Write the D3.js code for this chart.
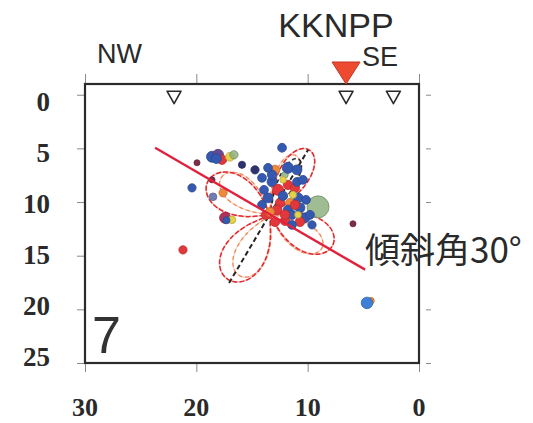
<!DOCTYPE html>
<html>
<head>
<meta charset="utf-8">
<script src="https://cdn.jsdelivr.net/npm/d3@7"></script>
<style>
  html, body { margin: 0; padding: 0; background: #fff; }
  svg { display: block; }
</style>
</head>
<body>
<svg id="chart" width="533" height="423"></svg>
<script>
// Profile distance (km, NW → SE) and depth (km)
const distanceTicks = [30, 20, 10, 0];
const depthTicks = [0, 5, 10, 15, 20, 25];

// Stations on the surface along the profile (km) and the plant site
const stationX = [22.0, 6.55, 2.3];
const plantX = 6.55;

// Hypocentres: distance (km), depth (km), group, magnitude
const quakeX =     [9.07, 12.30, 21.20, 4.31, 4.67, 5.93, 18.59, 18.05, 17.69, 16.98, 16.62, 15.90, 19.94, 14.73,
                    20.39, 18.59, 18.50, 17.60, 17.42, 16.80, 12.93, 12.04, 11.77, 10.96, 13.20, 12.66, 11.77, 11.14,
                    13.56, 10.87, 11.59, 12.48, 12.75, 11.77, 10.69, 10.24, 11.41, 12.04, 10.69, 14.10, 13.74, 12.21,
                    11.32, 9.79, 13.20, 13.92, 10.96, 14.10, 12.22, 11.14, 12.93, 11.41, 10.15, 9.61, 13.56, 10.42,
                    12.04, 13.38, 10.87, 18.20, 17.30];
const quakeDepth = [10.45, 4.94, 14.46, 19.20, 19.40, 12.03, 5.78, 5.60, 6.06, 5.78, 5.60, 6.53, 6.34, 7.00,
                    8.68, 7.93, 9.51, 9.14, 11.47, 11.66, 7.00, 7.46, 6.81, 7.00, 8.12, 8.86, 8.40, 8.68,
                    9.61, 9.61, 10.07, 10.07, 10.73, 10.73, 10.54, 11.47, 11.19, 11.75, 11.85, 10.26, 11.19, 7.93,
                    9.33, 11.19, 7.46, 8.86, 8.12, 7.74, 9.42, 10.26, 11.85, 12.13, 9.79, 12.13, 6.81, 7.93,
                    11.19, 10.92, 11.19, 5.95, 11.70];
const quakeGroup = ["g", "b", "r", "o", "c", "m", "b", "p", "r", "y", "g", "n", "m", "n",
                    "b", "m", "s", "o", "k", "y", "o", "g", "b", "b", "b", "r", "r", "r",
                    "b", "b", "o", "r", "r", "b", "b", "b", "b", "r", "r", "b", "r", "y",
                    "y", "b", "b", "b", "b", "b", "b", "r", "r", "b", "b", "b", "b", "b",
                    "r", "o", "y", "b", "b"];
const quakeMag =   [4.0, 1.6, 1.5, 1.2, 2.1, 1.1, 2.0, 2.0, 1.7, 1.6, 1.5, 1.3, 1.1, 1.5,
                    1.5, 1.1, 1.4, 1.5, 2.0, 1.4, 1.7, 1.2, 2.0, 1.8, 1.8, 2.0, 1.7, 1.7,
                    1.8, 1.8, 1.6, 1.7, 1.8, 1.7, 1.8, 1.8, 1.7, 1.7, 1.7, 1.6, 1.7, 1.2,
                    1.3, 1.6, 1.7, 1.6, 1.6, 1.6, 1.7, 1.7, 1.7, 1.6, 1.6, 1.5, 1.6, 1.6,
                    1.7, 1.6, 1.2, 1.8, 1.3];

// Fault plane dipping 30° to the SE and its conjugate plane
const faultX = [23.7, 4.84];
const faultDepth = [4.94, 16.3];
const conjX = [17.06, 9.96];
const conjDepth = [17.54, 5.13];

// Radiation-pattern lobes around the main shock (angle on the section, length km, half-width deg)
const lobeCentre = [13.38, 11.2];
const lobeAngle = [150, 60, 238, 333];
const lobeLength = [6.4, 7.0, 7.1, 6.3];
const lobeSpread = [38, 26, 36, 36];
const lobeAngle2 = [140, 68, 245, 325];
const lobeLength2 = [5.6, 6.0, 6.3, 5.6];
const lobeSpread2 = [32, 22, 30, 30];
const blackLobeAngle = [64];
const blackLobeLength = [5.8];
const blackLobeSpread = [18];

const groupColour = {
  b: "#3559b0", c: "#3d7fd4", r: "#e2383a", o: "#f0883a", y: "#e4d24c",
  g: "#8fb07f", p: "#6a4a94", n: "#2d336e", m: "#7c2e48", k: "#b0305a", s: "#6f80b2"
};

const svg = d3.select("#chart");

const x = d3.scaleLinear().domain([30, 0]).range([85, 419]);
const y = d3.scaleLinear().domain([-1, 25]).range([84, 363]);
const labelY = d3.scaleLinear().domain([0, 25]).range([102, 357]);
const radius = d3.scaleLinear().domain([0, 4]).range([0, 11]);

const defs = svg.append("defs");
defs.append("filter").attr("id", "soft")
  .attr("x", "-50%").attr("y", "-50%").attr("width", "200%").attr("height", "200%")
  .append("feGaussianBlur").attr("stdDeviation", 0.6);

// Frame ticks (small, outside the frame)
const tickStyle = g => g.call(s => s.select(".domain").remove())
  .call(s => s.selectAll(".tick line").attr("stroke", "#8a8a8a").attr("stroke-width", 1))
  .call(s => s.selectAll(".tick text").remove());

svg.append("g").attr("transform", `translate(${x(30)},0)`)
  .call(d3.axisLeft(y).tickValues(depthTicks).tickSize(8)).call(tickStyle);
svg.append("g").attr("transform", `translate(${x(0) + 12},0)`)
  .call(d3.axisLeft(y).tickValues(depthTicks).tickSize(5)).call(tickStyle);
svg.append("g").attr("transform", `translate(0,${y(-1)})`)
  .call(d3.axisTop(x).tickValues(distanceTicks).tickSize(10)).call(tickStyle);
svg.append("g").attr("transform", `translate(0,${y(25)})`)
  .call(d3.axisBottom(x).tickValues(distanceTicks).tickSize(9)).call(tickStyle);

// Axis labels
svg.append("g").selectAll("text").data(depthTicks).join("text")
  .attr("x", 50).attr("y", d => labelY(d)).attr("dy", "0.34em")
  .attr("text-anchor", "end")
  .attr("font-family", "'Liberation Serif', 'Times New Roman', serif")
  .attr("font-weight", "bold").attr("font-size", 27).attr("fill", "#2a2a2a")
  .text(d => d);

svg.append("g").selectAll("text").data(distanceTicks).join("text")
  .attr("x", d => x(d)).attr("y", 416)
  .attr("text-anchor", "middle")
  .attr("font-family", "'Liberation Serif', 'Times New Roman', serif")
  .attr("font-weight", "bold").attr("font-size", 26).attr("fill", "#2a2a2a")
  .text(d => d);

// Radiation-pattern lobes
const lobeLine = d3.line().x(p => x(p[0])).y(p => y(p[1])).curve(d3.curveCardinal.tension(0.3));
function lobePoints(angle, length, spread) {
  const pts = [[lobeCentre[0], lobeCentre[1]]];
  for (let i = 1; i < 24; i++) {
    const phi = -spread + (2 * spread * i) / 24;
    const r = length * Math.pow(Math.cos((Math.PI / 2) * (phi / spread)), 0.6);
    const a = (angle + phi) * Math.PI / 180;
    pts.push([lobeCentre[0] - r * Math.cos(a), lobeCentre[1] - r * Math.sin(a)]);
  }
  pts.push([lobeCentre[0], lobeCentre[1]]);
  return pts;
}
function drawLobes(angles, lengths, spreads, base, dash, colour, width) {
  const g = svg.append("g").attr("fill", "none");
  angles.forEach((a, i) => {
    const d = lobeLine(lobePoints(a, lengths[i], spreads[i]));
    if (base) g.append("path").attr("d", d).attr("stroke", base).attr("stroke-width", width);
    g.append("path").attr("d", d).attr("stroke", colour)
      .attr("stroke-width", width).attr("stroke-dasharray", dash);
  });
}
drawLobes(lobeAngle2, lobeLength2, lobeSpread2, "#fbd3c2", "4 3", "#f08a5a", 1.3);
drawLobes(lobeAngle, lobeLength, lobeSpread, "#f7c0bc", "5 2", "#e02a2e", 1.5);
drawLobes(blackLobeAngle, blackLobeLength, blackLobeSpread, null, "4 3", "#2a2a2a", 1.6);

// Conjugate plane
svg.append("line")
  .attr("x1", x(conjX[0])).attr("y1", y(conjDepth[0]))
  .attr("x2", x(conjX[1])).attr("y2", y(conjDepth[1]))
  .attr("stroke", "#262626").attr("stroke-width", 2).attr("stroke-dasharray", "5 3");

// Hypocentres
const quakes = quakeX.map((v, i) => ({ x: v, d: quakeDepth[i], g: quakeGroup[i], m: quakeMag[i] }));
svg.append("g").attr("filter", "url(#soft)").selectAll("circle").data(quakes).join("circle")
  .attr("cx", d => x(d.x)).attr("cy", d => y(d.d)).attr("r", d => radius(d.m))
  .attr("fill", d => groupColour[d.g])
  .attr("fill-opacity", d => d.g === "g" ? 0.85 : 1)
  .attr("stroke", d => d3.color(groupColour[d.g]).darker(0.6))
  .attr("stroke-width", 0.8);

// Fault plane, dip 30°
svg.append("line")
  .attr("x1", x(faultX[0])).attr("y1", y(faultDepth[0]))
  .attr("x2", x(faultX[1])).attr("y2", y(faultDepth[1]))
  .attr("stroke", "#e2223c").attr("stroke-width", 2.4);

// Frame
svg.append("rect")
  .attr("x", x(30)).attr("y", y(-1))
  .attr("width", x(0) - x(30)).attr("height", y(25) - y(-1))
  .attr("fill", "none").attr("stroke", "#2b2b2b").attr("stroke-width", 2.2);

// Stations
svg.append("g").selectAll("path").data(stationX).join("path")
  .attr("transform", d => `translate(${x(d)},${y(0)})`)
  .attr("d", "M-7,-3.5 L7,-3.5 L0,9 Z")
  .attr("fill", "#fff").attr("stroke", "#2a2a2a").attr("stroke-width", 1.6)
  .attr("stroke-linejoin", "round");

// Plant site marker
svg.append("path")
  .attr("transform", `translate(${x(plantX)},${y(-1)})`)
  .attr("d", "M-14,-22 L14,-22 L0,0 Z")
  .attr("fill", "#ee4a30").attr("stroke", "#c23526").attr("stroke-width", 1);

// Text
const sans = "'Liberation Sans', Arial, sans-serif";
svg.append("text").attr("x", 336).attr("y", 37).attr("text-anchor", "middle")
  .attr("font-family", sans).attr("font-size", 34).attr("fill", "#2a2a2a").text("KKNPP");
svg.append("text").attr("x", 97).attr("y", 63)
  .attr("font-family", sans).attr("font-size", 27).attr("fill", "#2a2a2a").text("NW");
svg.append("text").attr("x", 362).attr("y", 66)
  .attr("font-family", sans).attr("font-size", 27).attr("fill", "#2a2a2a").text("SE");
svg.append("text").attr("x", 92).attr("y", 353)
  .attr("font-family", sans).attr("font-size", 52).attr("fill", "#333").text("7");
svg.append("text").attr("x", 365).attr("y", 263)
  .attr("font-family", "'Noto Sans CJK JP', 'Noto Sans', sans-serif")
  .attr("font-size", 35).attr("fill", "#2a2a2a").text("傾斜角30°");
</script>
</body>
</html>
